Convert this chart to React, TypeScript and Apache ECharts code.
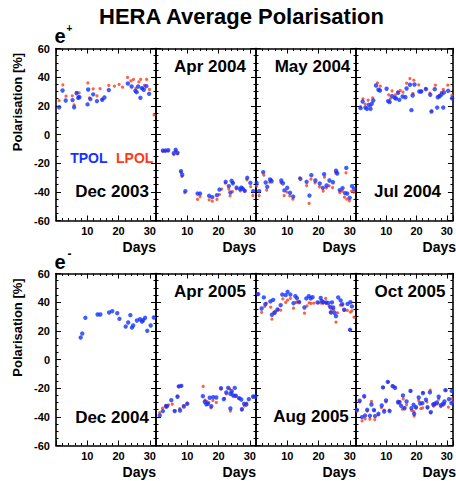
import React, { useEffect, useRef } from "react";
import * as echarts from "echarts";

const panelNames = ["Dec 2003", "Apr 2004", "May 2004", "Jul 2004", "Dec 2004", "Apr 2005", "Aug 2005", "Oct 2005"];
const xTickLabels = [10, 20, 30];
const yTickLabels = [-60, -40, -20, 0, 20, 40, 60];

const dec2003T = [[1.0,19],[2.1,30.7],[3.1,23.7],[5.3,24],[5.8,19],[6.6,28.8],[7.1,25.6],[7.5,26],[10.1,21],[10.3,31.4],[11.0,24.7],[11.9,28],[13.1,23.3],[14.8,24.2],[15.5,25.8],[16.9,31],[23.0,35.6],[24.2,33.5],[25.4,30.5],[25.8,29.5],[26.3,33.5],[27.0,25.6],[27.5,32.3],[28.1,31.2],[28.9,33.7],[29.8,28.4]];
const dec2003L = [[1,23.7],[2.2,34.7],[3.2,26.7],[5.2,27],[5.8,20.7],[6.6,29.3],[7.3,26.5],[7.4,29],[10.2,36],[10.7,25.6],[11.9,31.9],[13.1,27],[14.1,32],[14.7,24.7],[16.9,34.2],[18.7,33.7],[20.2,35],[21.3,33],[22.9,39.8],[24,37.4],[24.8,38.4],[25.6,32.3],[26.5,36.7],[27.1,38.4],[27.7,32],[28.3,34.2],[29,38.4],[29.9,31.4],[31.4,13.7]];
const apr2004T = [[2.2,-11.2],[3,-11.2],[3.9,-10.9],[5.7,-13],[6.3,-10.7],[6.9,-12.8],[8,-25.6],[8.4,-28.1],[9.4,-39.5],[13.3,-41.2],[14.1,-41.2],[17,-42.8],[18,-43.7],[19.5,-42.3],[20.3,-38.4],[22.3,-33],[23.3,-36],[23.8,-40.5],[24.2,-32.3],[24.6,-34],[25.8,-37],[26.9,-38.1],[27.3,-37],[27.8,-37.9],[28.4,-39.3],[29.2,-30.2],[30.2,-33.7],[31.1,-39.5]];
const apr2004L = [[2.2,-11.6],[3,-11.6],[3.9,-11.6],[5.7,-14],[6.3,-11.4],[6.9,-13.5],[8,-26.5],[8.3,-29.3],[9.2,-40.5],[13.3,-45.3],[14.1,-43.3],[17,-45.6],[18,-46.5],[19.5,-45.3],[20.3,-41.9],[21,-38.1],[22.2,-34],[23.3,-38.1],[23.7,-42.8],[24.5,-39.8],[24.6,-33.5],[25.7,-37.9],[27,-39.3],[27.6,-37.4],[28.4,-39.3],[29.1,-31.6],[30.3,-36.3],[31,-42.6]];
const may2004T = [[0.2,-33.7],[1,-39.5],[2.3,-26.3],[3.1,-33.5],[3.6,-36.5],[4.5,-31.4],[5,-32.6],[8.1,-32.1],[8.6,-34],[9.1,-39],[10,-37.2],[10.9,-40.7],[11.9,-43.3],[14.2,-30.9],[16.2,-33],[17.1,-42.6],[17.7,-28.4],[19,-32.1],[20.4,-34.2],[21.4,-37.2],[21.8,-27.7],[22.6,-35.6],[23.5,-32.1],[24.6,-33.3],[25.6,-25.3],[26,-27.2],[26.8,-38.8],[27.7,-37.4],[28.5,-40.9],[28.9,-23.3],[29.2,-41.2],[30,-44.2],[30.7,-36],[31.4,-37.9]];
const may2004L = [[0.2,-36],[1,-42.6],[2.5,-28.4],[3.4,-38.8],[4.4,-33.3],[4.9,-31.6],[8,-33.5],[9,-42.6],[9.9,-40.2],[10.8,-42.8],[11.8,-45.1],[14,-30.2],[16.2,-35.6],[17,-48.1],[17.6,-31.2],[18.9,-33.7],[20.3,-36.5],[21.5,-39.5],[21.9,-29.8],[22.5,-37.2],[23.4,-35.8],[24.5,-37],[25.5,-26.7],[25.9,-26.3],[26.8,-40.5],[27.6,-39.5],[28.3,-43.7],[28.8,-26.7],[29.1,-45.1],[29.9,-46.3],[30.6,-39.5],[31.3,-40.2]];
const jul2004T = [[1.5,18.4],[2.2,23],[3.1,18.8],[3.6,17.9],[4.2,20.7],[4.8,17.9],[5.2,21.4],[5.7,23.7],[6.6,34.2],[7.4,31.2],[7.9,30.7],[10.1,31.9],[10.6,23.3],[11.1,22.6],[11.9,26.7],[12.8,25.6],[13.2,25.1],[13.9,29.1],[14.3,24.2],[15.4,26.5],[16.3,26],[16.7,32.1],[17.8,34.7],[18.3,17],[18.7,27.2],[19.3,34.9],[20.9,30],[21.5,30],[23.1,31.6],[24.5,27.7],[24.9,16],[26,31.6],[26.8,18.8],[27,26],[27.6,26.7],[28.2,27.9],[28.8,18.8],[29,29.3],[30.4,30.5],[31.7,25.3]];
const jul2004L = [[1.5,19.5],[2.3,24.9],[3,21.2],[4,24],[4.8,20],[5.5,25.6],[7.1,36],[8,33.7],[10.8,27.7],[11.3,24.9],[11.9,30.5],[13,27.7],[13.8,29.8],[14.6,30.7],[15.5,29.5],[16.7,35.8],[17.8,39],[19.1,37.9],[18.8,28.6],[20.7,34.7],[21.7,30.2],[23,32.1],[24.4,28.8],[25,16.5],[26.2,34.4],[27.4,27.2],[28.2,29.3],[28.8,31.4],[30.3,34.4],[31.7,27.4]];
const dec2004T = [[7.9,15.3],[8.4,18.1],[9.4,29.1],[13.3,31.4],[14.2,31.4],[17,32.8],[18,33.7],[19.6,32.3],[20.3,28.4],[22.3,23],[23.1,25.8],[23.8,30.9],[24.3,22.3],[24.7,23.7],[25.9,27.2],[26.9,28.1],[27.5,26.5],[27.9,27.4],[28.5,29.1],[29.2,20],[30.3,23.7],[31.3,29.3]];
const dec2004L: number[][] = [];
const apr2005T = [[1.2,-39],[2.2,-36],[3.2,-32.8],[3.5,-32.6],[4.9,-28.4],[6,-36],[6.9,-26],[7.3,-18.8],[7.7,-35.6],[8.1,-18.4],[8.9,-32.8],[10,-30.9],[15,-25.6],[15.6,-29.5],[16.1,-31.2],[16.6,-30.9],[17.2,-26.7],[17.7,-32.6],[18.3,-26.3],[19.3,-26.5],[20.8,-20],[21.7,-27.7],[22.5,-23],[23.1,-19.8],[23.8,-24],[23.8,-34.2],[24.2,-22.1],[24.7,-25.1],[25.2,-19.8],[25.5,-25.3],[26.6,-27],[27.3,-27.9],[27.5,-34.7],[28.2,-30.9],[28.9,-31.4],[29.7,-27.7],[31.1,-25.8],[31.8,-26]];
const apr2005L = [[1.2,-37],[2.1,-34],[3.1,-32],[4,-31.6],[5.2,-31.2],[5.9,-35.6],[6.8,-25.6],[7.2,-18.8],[7.6,-34.2],[8.1,-18.4],[8.9,-32.1],[10,-30.5],[15.1,-18.8],[15.7,-28.4],[16.3,-29.3],[16.9,-30],[17.6,-33.7],[18.2,-28.6],[19.3,-30],[20.8,-20.7],[21.9,-27.2],[22.5,-24],[23.6,-20.5],[23.8,-36],[24.3,-23],[25,-25.3],[25.6,-25.3],[26.6,-27.2],[27.4,-35.1],[28.3,-32.3],[29,-30.5],[31,-26.3]];
const aug2005T = [[0.7,45.6],[1.8,35.6],[2.5,43.3],[3,38.6],[4.6,40.5],[5.1,31.2],[5.5,41.6],[6,32.6],[6.9,34.9],[7.9,37.9],[8.4,45.3],[9.5,44.9],[10.1,47.2],[11,45.3],[12,39.3],[12.6,44.2],[13.1,42.8],[13.8,40],[15.5,36.3],[16.1,42.6],[16.9,44.2],[17.5,42.6],[18.1,43.5],[19.7,39.8],[20.7,43],[21,40.9],[21.5,40],[22.4,39.8],[23.1,39.5],[23.8,36.5],[24,32.8],[24.3,39.8],[24.7,36.3],[25.1,32.6],[25.6,30.2],[26.3,43.3],[27.1,41.2],[27.6,38.6],[28.2,34.7],[29.3,38.8],[30.1,20.7],[30.2,40],[30.7,37]];
const aug2005L = [[0.6,46],[1.8,32.8],[2.8,37],[3.3,39.3],[4.7,36.5],[5.1,28.1],[5.7,32.8],[6.2,33.7],[7,34.7],[7.9,34.4],[8.6,42.3],[9.5,39.8],[10.1,41.4],[11,42.6],[12,35.8],[12.8,39.8],[13.2,40.2],[13.9,40.2],[15.5,32.3],[16.3,37.4],[17,39.5],[17.6,39.1],[18.5,39.3],[20,39.5],[20.9,39.3],[21.4,39.3],[22.3,42.6],[22.5,39.1],[23.4,37.4],[23.8,33],[24.3,34.9],[24.9,34.9],[25.6,26],[26.1,32.6],[27,37.9],[27.6,37.9],[28.3,34.4],[29.2,34.2],[30.2,33],[30.7,34],[31.4,29.5],[30,20.7]];
const oct2005T = [[0.3,-35.1],[1.2,-28.8],[2,-40.2],[2.7,-25.6],[3,-39.1],[3.7,-35.1],[4.6,-39.3],[5.1,-31.4],[5.9,-35.3],[6.3,-39.5],[7.4,-37.9],[8.5,-32.1],[8.9,-19.5],[9.3,-36.3],[9.9,-28.6],[10.5,-15.6],[11.1,-36],[12.1,-18.6],[12.9,-19.8],[13.9,-29.5],[14.3,-30],[14.9,-32.3],[15.5,-25.1],[16,-34],[16.7,-29.3],[18,-21.9],[18.3,-34],[19,-31.6],[19.2,-37.9],[19.8,-33.3],[20.7,-26.5],[21.2,-30.7],[21.9,-30.5],[22.1,-23.5],[23.1,-28.1],[23.6,-33.3],[24.4,-23],[24.7,-36.7],[25.5,-31.4],[25.9,-30.9],[26.7,-30],[27.3,-26],[28,-31.9],[28.7,-30.9],[29.2,-29.3],[29.5,-21.4],[30.7,-27.7],[31.5,-30.5],[31.6,-21.9]];
const oct2005L = [[0.4,-36],[1.2,-29.5],[2,-42.8],[2.7,-26.3],[3,-41.4],[3.7,-36],[4.6,-41.6],[5.1,-29.3],[6.1,-35.6],[6.2,-41.9],[7.4,-38.6],[8.4,-33.5],[9,-19.5],[9.3,-35.3],[9.9,-29.5],[10.6,-15.8],[11,-35.3],[12.1,-18.4],[12.8,-19.1],[13.8,-30.5],[14.5,-29.3],[15.3,-34.7],[15.6,-27.4],[16,-33.7],[16.7,-31.6],[18,-22.1],[18.4,-35.6],[19.1,-36.3],[19.2,-39.5],[19.8,-33.7],[20.7,-28.6],[21.4,-34.2],[22,-33.7],[22.1,-23],[23.4,-29.5],[23.6,-33.7],[24.5,-21.4],[24.6,-37.2],[25.6,-32.6],[26.1,-31.6],[26.8,-30.9],[27.3,-27.7],[28,-32.8],[28.8,-31.9],[29.3,-30.9],[29.7,-21.6],[30.5,-33.3],[31.6,-27.4],[31.9,-29.8]];

const tpolSets = [dec2003T, apr2004T, may2004T, jul2004T, dec2004T, apr2005T, aug2005T, oct2005T];
const lpolSets = [dec2003L, apr2004L, may2004L, jul2004L, dec2004L, apr2005L, aug2005L, oct2005L];

const FONT = '"Liberation Sans", Arial, sans-serif';
const BLUE = "#1233ff";
const RED = "#ff3a14";

export default function App() {
  const ref = useRef<HTMLDivElement>(null);
  useEffect(() => {
    if (!ref.current) return;
    const chart = echarts.init(ref.current, null, { renderer: "svg" });
    const grids: any[] = [];
    const xAxes: any[] = [];
    const yAxes: any[] = [];
    const series: any[] = [];
    const graphics: any[] = [];
    const axisLine = { show: true, onZero: false, lineStyle: { color: "#000", width: 1.6 } };
    const tick = { show: true, inside: true, length: 5, lineStyle: { color: "#000", width: 1 } };
    for (let i = 0; i < 8; i++) {
      const row = Math.floor(i / 4);
      const col = i % 4;
      const left = 56 + 100 * col;
      const top = row === 0 ? 48.5 : 273.5;
      grids.push({ left, top, width: 100, height: 172, containLabel: false });
      const xBase = {
        gridIndex: i, type: "value", min: 0, max: 32, interval: 10,
        axisLine, axisTick: tick,
        minorTick: { show: true, splitNumber: 5, length: 2.5, lineStyle: { color: "#000", width: 1 } },
        splitLine: { show: false }, minorSplitLine: { show: false },
      };
      xAxes.push({
        ...xBase, position: "bottom",
        axisLabel: {
          show: true, margin: 5, color: "#000", fontSize: 11, fontWeight: "bold", fontFamily: FONT,
          showMinLabel: false, showMaxLabel: false,
          formatter: (v: number) => (xTickLabels.indexOf(v) >= 0 ? String(v) : ""),
        },
      });
      xAxes.push({ ...xBase, position: "top", axisLabel: { show: false } });
      const yBase = {
        gridIndex: i, type: "value", min: -60, max: 60, interval: 20,
        axisLine, axisTick: tick,
        minorTick: { show: true, splitNumber: 4, length: 2.5, lineStyle: { color: "#000", width: 1 } },
        splitLine: { show: false }, minorSplitLine: { show: false },
      };
      yAxes.push({
        ...yBase, position: "left",
        axisLabel: {
          show: col === 0, margin: 6, color: "#000", fontSize: 11, fontWeight: "bold", fontFamily: FONT,
          formatter: (v: number) => (yTickLabels.indexOf(v) >= 0 ? String(v) : ""),
        },
      });
      yAxes.push({ ...yBase, position: "right", axisLabel: { show: false } });
      series.push({
        type: "scatter", name: "LPOL", xAxisIndex: 2 * i, yAxisIndex: 2 * i,
        data: lpolSets[i], symbol: "circle", symbolSize: 3.2, clip: false,
        itemStyle: { color: RED }, silent: true,
      });
      series.push({
        type: "scatter", name: "TPOL", xAxisIndex: 2 * i, yAxisIndex: 2 * i,
        data: tpolSets[i], symbol: "circle", symbolSize: 4.4, clip: false,
        itemStyle: { color: BLUE }, silent: true,
      });
      graphics.push({
        type: "text", x: left + 100, y: top + 172 + 26, z: 10,
        style: { text: "Days", font: `bold 14px ${FONT}`, fill: "#000", textAlign: "right", textVerticalAlign: "middle" },
      });
    }
    const dy = 225.5;
    const labelPos: [number, number][] = [
      [112, 191.5], [210, 66], [312.5, 66], [407.5, 191],
      [112, 191.5 + dy], [210, 66 + dy], [311, 191 + dy], [410, 66 + dy],
    ];
    panelNames.forEach((name, i) => {
      graphics.push({
        type: "text", x: labelPos[i][0], y: labelPos[i][1], z: 10,
        style: { text: name, font: `bold 17px ${FONT}`, fill: "#000", textAlign: "center", textVerticalAlign: "middle" },
      });
    });
    graphics.push(
      { type: "text", x: 241.5, y: 16, style: { text: "HERA Average Polarisation", font: `bold 22px ${FONT}`, fill: "#000", textAlign: "center", textVerticalAlign: "middle" } },
      { type: "text", x: 88.8, y: 157.7, z: 10, style: { text: "TPOL", font: `bold 14px ${FONT}`, fill: BLUE, textAlign: "center", textVerticalAlign: "middle" } },
      { type: "text", x: 134.7, y: 157.7, z: 10, style: { text: "LPOL", font: `bold 14px ${FONT}`, fill: RED, textAlign: "center", textVerticalAlign: "middle" } },
      { type: "text", x: 54.5, y: 36, style: { text: "e", font: `bold 20px ${FONT}`, fill: "#000", textAlign: "left", textVerticalAlign: "middle" } },
      { type: "text", x: 69.5, y: 28.5, style: { text: "+", font: `bold 10px ${FONT}`, fill: "#000", textAlign: "center", textVerticalAlign: "middle" } },
      { type: "text", x: 54.5, y: 36 + dy, style: { text: "e", font: `bold 20px ${FONT}`, fill: "#000", textAlign: "left", textVerticalAlign: "middle" } },
      { type: "text", x: 69.5, y: 28 + dy, style: { text: "-", font: `bold 12px ${FONT}`, fill: "#000", textAlign: "center", textVerticalAlign: "middle" } },
      { type: "text", x: 17, y: 102, rotation: Math.PI / 2, style: { text: "Polarisation [%]", font: `bold 13px ${FONT}`, fill: "#000", textAlign: "center", textVerticalAlign: "middle" } },
      { type: "text", x: 17, y: 102 + dy, rotation: Math.PI / 2, style: { text: "Polarisation [%]", font: `bold 13px ${FONT}`, fill: "#000", textAlign: "center", textVerticalAlign: "middle" } },
    );
    chart.setOption({
      animation: false,
      backgroundColor: "#fff",
      grid: grids,
      xAxis: xAxes,
      yAxis: yAxes,
      series,
      graphic: graphics,
    });
    return () => chart.dispose();
  }, []);
  return <div ref={ref} style={{ position: "absolute", left: 0, top: 0, width: 456, height: 481 }} />;
}
